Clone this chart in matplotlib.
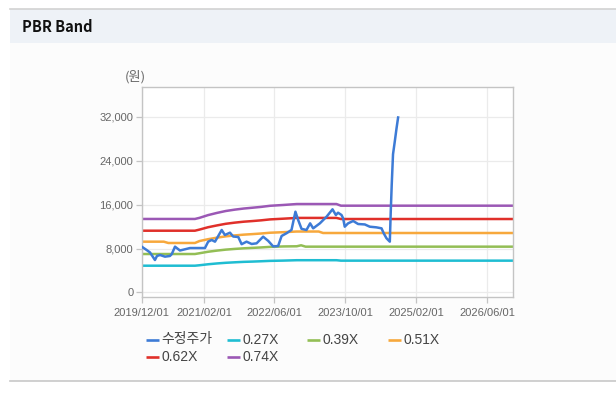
import matplotlib
matplotlib.use("Agg")
import matplotlib.pyplot as plt
from matplotlib.patches import Rectangle
import pandas as pd

# ---------------- data ----------------
price_dates = ['2019-12-01', '2020-01-04', '2020-01-27', '2020-03-01', '2020-03-15', '2020-04-05',
               '2020-05-09', '2020-06-12', '2020-06-25', '2020-07-17', '2020-08-20', '2020-09-23',
               '2020-10-28', '2021-02-08', '2021-03-02', '2021-03-26', '2021-04-18', '2021-06-03',
               '2021-06-25', '2021-07-30', '2021-08-21', '2021-09-25', '2021-10-18', '2021-11-21',
               '2021-12-26', '2022-01-29', '2022-03-15', '2022-04-19', '2022-05-23', '2022-06-26',
               '2022-07-20', '2022-08-23', '2022-09-26', '2022-10-23', '2022-11-11', '2022-12-04',
               '2023-01-07', '2023-02-01', '2023-02-22', '2023-04-09', '2023-05-25', '2023-07-05',
               '2023-07-28', '2023-08-12', '2023-09-05', '2023-09-16', '2023-09-27', '2023-10-20',
               '2023-11-24', '2023-12-28', '2024-02-12', '2024-03-17', '2024-05-02', '2024-06-06',
               '2024-06-21', '2024-07-10', '2024-08-02', '2024-08-08', '2024-08-15', '2024-08-24',
               '2024-09-05', '2024-09-17', '2024-09-28']
price_values = [8350, 7740, 7300, 5920, 6650, 6830,
                6530, 6650, 7010, 8350, 7650, 7870,
                8100, 8100, 9260, 9570, 9260, 11390,
                10480, 10900, 10200, 10110, 8800, 9260,
                8840, 8960, 10170, 9400, 8400, 8470,
                10300, 10800, 11400, 14720, 13200, 11600,
                11390, 12600, 11690, 12600, 13810, 15160,
                14120, 14540, 14120, 13510, 11990, 12600,
                13030, 12480, 12400, 11990, 11870, 11690,
                10790, 9880, 9260, 14430, 19590, 25200,
                27500, 29900, 31900]

band_dates = ['2019-12-01', '2020-05-01', '2020-06-01', '2020-12-01', '2021-01-01', '2021-03-01',
              '2021-05-01', '2021-07-01', '2021-09-01', '2021-11-01', '2022-01-01', '2022-03-01',
              '2022-05-01', '2022-08-01', '2022-11-01', '2022-12-01', '2023-01-01', '2023-04-01',
              '2023-05-01', '2023-08-01', '2023-09-01', '2026-12-31']
band_027 = [4880, 4880, 4880, 4880, 4960, 5140, 5290, 5410, 5500, 5580, 5630, 5690,
            5760, 5810, 5880, 5880, 5880, 5880, 5880, 5880, 5800, 5800]
band_039 = [7010, 7010, 7010, 7010, 7150, 7420, 7630, 7810, 7940, 8050, 8130, 8210,
            8310, 8390, 8420, 8600, 8350, 8350, 8350, 8350, 8350, 8350]
band_051 = [9260, 9260, 9020, 9020, 9370, 9710, 9990, 10230, 10400, 10540, 10640, 10750,
            10890, 10990, 11110, 11110, 11110, 11110, 10840, 10840, 10840, 10840]
band_062 = [11260, 11260, 11260, 11260, 11460, 11890, 12220, 12520, 12730, 12900, 13020, 13150,
            13320, 13450, 13590, 13590, 13590, 13590, 13590, 13590, 13390, 13390]
band_074 = [13400, 13400, 13400, 13400, 13600, 14100, 14500, 14850, 15100, 15300, 15450, 15600,
            15800, 15950, 16120, 16120, 16120, 16120, 16120, 16120, 15820, 15820]

series_labels = ['수정주가', '0.27X', '0.39X', '0.51X', '0.62X', '0.74X']
series_colors = ['#3d7bd6', '#1fbdd2', '#93be55', '#f7a83c', '#e0302a', '#9b58b5']

xtick_labels = ['2019/12/01', '2021/02/01', '2022/06/01', '2023/10/01', '2025/02/01', '2026/06/01']
ytick_values = [0, 8000, 16000, 24000, 32000]
y_unit = '(원)'
title = 'PBR Band'

# ---------------- figure ----------------
W, H = 616, 395
fig = plt.figure(figsize=(W / 100, H / 100), dpi=100)
fig.patch.set_facecolor('white')

def fx(px):
    return px / W

def fy(py):
    return 1 - py / H

# page decorations on a background axes (pixel coordinates, y downwards)
bg = fig.add_axes([0, 0, 1, 1], zorder=0)
bg.set_xlim(0, W)
bg.set_ylim(H, 0)
bg.axis('off')
bg.add_patch(Rectangle((10, 43), W - 10, 381 - 43, facecolor='#fcfcfc', edgecolor='none'))
bg.add_patch(Rectangle((10, 9), W - 10, 43.3 - 9, facecolor='#eef2f7', edgecolor='none'))
bg.plot([10, W], [8.5, 8.5], color='#d2d2d2', lw=1.2)
bg.plot([10, W], [381.3, 381.3], color='#c8c8c8', lw=1.2)
bg.text(21.5, 27, title, fontsize=10.5, fontweight='bold', color='#111111',
        family=['Noto Sans CJK KR', 'Liberation Sans'], va='center', ha='left')
bg.text(135, 76.5, y_unit, fontsize=9.5, color='#666666',
        family=['Noto Sans CJK KR', 'DejaVu Sans'], ha='center', va='center')

# manual legend (4 columns, row-major)
leg_cols = [145.7, 226.7, 307.3, 388.3]
leg_rows = [340.0, 357.3]
for i, (lab, col) in enumerate(zip(series_labels, series_colors)):
    r, c = divmod(i, 4)
    x0 = leg_cols[c]
    y0 = leg_rows[r]
    bg.plot([x0, x0 + 13], [y0, y0], color=col, lw=1.9, solid_capstyle='butt')
    bg.text(x0 + 15.5, y0 - 0.5, lab, fontsize=10, color='#444444',
            family=['Liberation Sans', 'Noto Sans CJK KR'], ha='left', va='center')

# main axes
ax = fig.add_axes([fx(141.7), fy(297.3), fx(513.3) - fx(141.7), fy(87.3) - fy(297.3)], zorder=2)
ax.set_facecolor('white')

pd_price = pd.to_datetime(price_dates)
pd_band = pd.to_datetime(band_dates)
bands = [band_027, band_039, band_051, band_062, band_074]

for vals, col in zip(bands, series_colors[1:]):
    ax.plot(pd_band, vals, color=col, lw=1.8, zorder=2, solid_capstyle='butt')
ax.plot(pd_price, price_values, color=series_colors[0], lw=1.8, zorder=3,
        solid_joinstyle='round')

xticks = pd.to_datetime(xtick_labels, format='%Y/%m/%d')
ax.set_xlim(pd.Timestamp('2019-12-01'), pd.Timestamp('2026-11-29'))
ax.set_ylim(-880, 37400)
ax.set_xticks(xticks)
ax.set_xticklabels(xtick_labels)
ax.set_yticks(ytick_values)
ax.set_yticklabels([f'{v:,}' for v in ytick_values])

ax.grid(True, color='#ebebeb', lw=0.9, zorder=0)
ax.set_axisbelow(True)
for s in ax.spines.values():
    s.set_color('#c4c4c4')
    s.set_linewidth(1.0)
ax.tick_params(axis='both', colors='#c4c4c4', length=4, width=0.9,
               labelcolor='#666666', labelsize=8)
ax.tick_params(axis='x', pad=4)
ax.tick_params(axis='y', pad=2)
for lab in ax.get_xticklabels() + ax.get_yticklabels():
    lab.set_family(['Liberation Sans'])

fig.savefig('out.png', dpi=100, facecolor=fig.get_facecolor())
